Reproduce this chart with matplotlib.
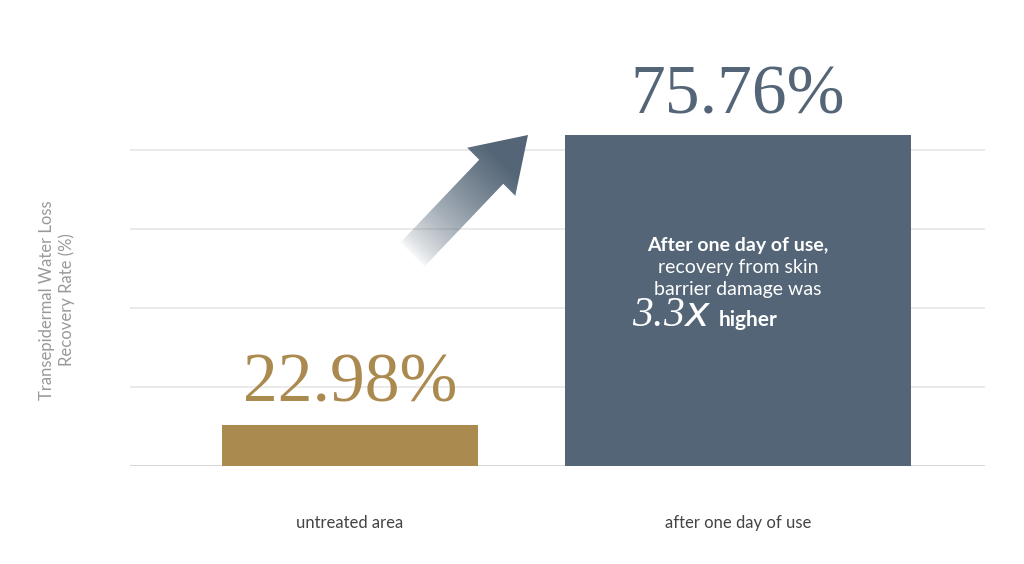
import numpy as np
import matplotlib.pyplot as plt
from matplotlib.patches import Polygon

categories = ["untreated area", "after one day of use"]
values = [22.98, 75.76]
# drawn heights follow the reference's (non-proportional) bar sizes
bar_heights = [9.4, 75.76]
labels = ["22.98%", "75.76%"]
colors = ["#AB8A50", "#536576"]

W, H = 1024, 564
fig = plt.figure(figsize=(W / 100, H / 100), dpi=100)
ax = fig.add_axes([130 / W, (H - 466) / H, 855 / W, 331 / H])
ax.set_xlim(-0.567, 1.637)
ax.set_ylim(0, 75.76)

step = 75.76 * 79 / 331
for k in range(1, 5):
    ax.axhline(step * k, color="#e6e6e6", lw=1.2, zorder=0)
ax.axhline(0, color="#cfcfcf", lw=1.2, zorder=0)

widths = [0.66, 0.89]
for i in range(2):
    ax.bar(i, bar_heights[i], width=widths[i], color=colors[i], zorder=2)
    ax.text(i, -13, categories[i], ha="center", va="center", fontsize=12,
            color="#444444", family="Lato")

ax.text(0, bar_heights[0] + 2, labels[0], ha="center", va="bottom", fontsize=50,
        color=colors[0], family="Liberation Serif")
ax.text(1, bar_heights[1] + 1.5, labels[1], ha="center", va="bottom", fontsize=50,
        color=colors[1], family="Liberation Serif")

ax.text(1, 50.5, "After one day of use,", ha="center", va="center", fontsize=14,
        color="white", weight="bold", family="Lato")
ax.text(1, 45.5, "recovery from skin", ha="center", va="center", fontsize=14,
        color="white", family="Lato")
ax.text(1, 40.5, "barrier damage was", ha="center", va="center", fontsize=14,
        color="white", family="Lato")
ax.text(0.93, 34.5, "3.3$x$", ha="right", va="center", fontsize=30,
        color="white", family="Liberation Serif", style="italic")
ax.text(0.95, 33.5, "higher", ha="left", va="center", fontsize=15,
        color="white", weight="bold", family="Lato")

for s in ax.spines.values():
    s.set_visible(False)
ax.set_xticks([])
ax.set_yticks([])

fig.text(57 / W, (H - 300) / H, "Transepidermal Water Loss\nRecovery Rate (%)",
         rotation=90, ha="center", va="center", fontsize=12, color="#999999",
         family="Lato", linespacing=1.2)

# gradient arrow in pixel coords
def px(x, y):
    return (x / W, (H - y) / H)

d = np.array([1, -1]) / np.sqrt(2)
n = np.array([1, 1]) / np.sqrt(2)
tail = np.array([412, 255])
tip = np.array([528, 135])
hw, sw = 34, 17
neck = tip - d * 52
pts = [tail + n * sw, neck + n * sw, neck + n * hw, tip,
       neck - n * hw, neck - n * sw, tail - n * sw]
poly = Polygon([px(*p) for p in pts], closed=True, transform=fig.transFigure,
               facecolor="none", edgecolor="none")
fig.add_artist(poly)
gax = fig.add_axes([0, 0, 1, 1], zorder=3)
gax.set_axis_off()
gax.set_xlim(0, W)
gax.set_ylim(H, 0)
yy, xx = np.mgrid[0:H, 0:W]
t = ((xx - tail[0]) * d[0] + (yy - tail[1]) * d[1]) / 130.0
t = np.clip(t, 0, 1)
rgba = np.zeros((H, W, 4))
rgba[..., 0] = 0x53 / 255
rgba[..., 1] = 0x65 / 255
rgba[..., 2] = 0x76 / 255
rgba[..., 3] = t ** 0.7
im = gax.imshow(rgba, extent=(0, W, H, 0), interpolation="bilinear")
im.set_clip_path(poly)

fig.savefig("out.png", dpi=100, facecolor="white")
